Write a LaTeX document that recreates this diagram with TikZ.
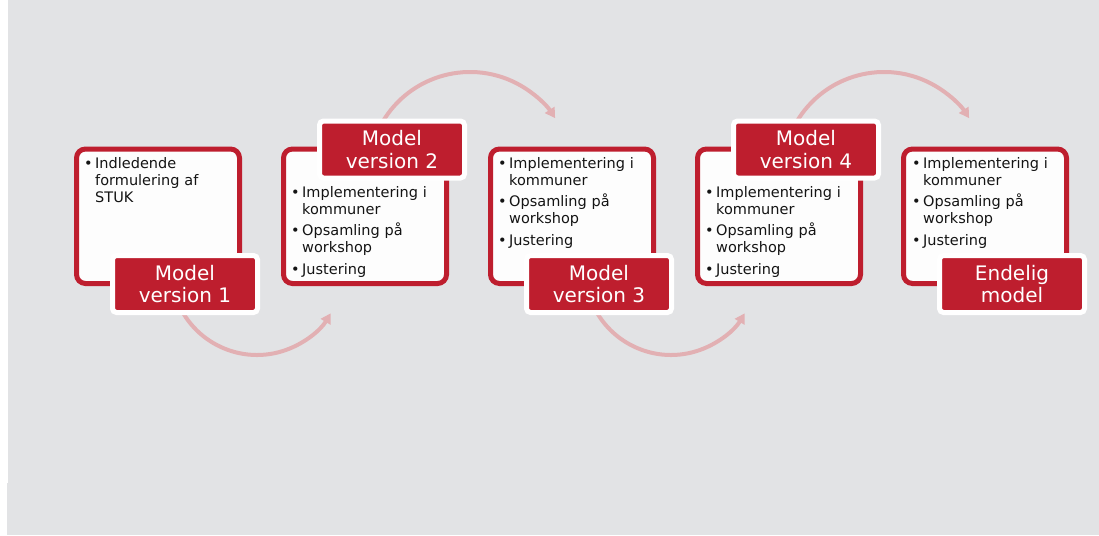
\documentclass[tikz,border=0pt]{standalone}
\usepackage{fontspec}
\setmainfont{DejaVu Sans}
\usetikzlibrary{arrows.meta}
\definecolor{bg}{RGB}{226,227,229}
\definecolor{brand}{RGB}{190,30,46}
\definecolor{arrowc}{RGB}{226,176,179}
\definecolor{boxfill}{RGB}{253,253,253}
\definecolor{ink}{RGB}{20,20,20}
\newcommand\itmf{\hangindent=11pt\hangafter=1\noindent\makebox[11pt][l]{\textbullet}}
\newcommand\itm{\par\itmf}
\newcommand\itemtext{\raggedright\setlength{\parskip}{4.5pt}\itmf Implementering i\newline kommuner\itm Opsamling på\newline workshop\itm Justering\par}
\tikzset{
  card/.style={draw=brand, line width=5pt, fill=boxfill, rounded corners=9pt,
    minimum width=163pt, minimum height=134.5pt, inner sep=0pt},
  tag/.style={draw=white, fill=brand, line width=5pt, rounded corners=4pt,
    minimum width=145pt, minimum height=57pt, inner sep=0pt, text=white,
    align=center, font=\fontsize{20}{22.5}\selectfont},
  bullets/.style={anchor=base west, text width=150pt, inner sep=0pt, text=ink,
    font=\fontsize{14.5}{17}\selectfont},
  flow/.style={draw=arrowc, line width=4pt, -{Triangle[length=10pt,width=11pt]}}
}
\begin{document}
\begin{tikzpicture}[x=1pt,y=1pt]
\useasboundingbox (0,0) rectangle (1099,-535);
\fill[white] (0,0) rectangle (1099,-535);
\fill[bg] (8,0) rectangle (1099,-483);
\fill[bg] (7,-483) rectangle (1099,-535);

% arcs
\coordinate (a1) at (176.2,-298.4);
\coordinate (a2) at (382.1,-122.75);
\coordinate (a3) at (590.2,-298.4);
\coordinate (a4) at (796.1,-122.75);
\draw[flow] (a1) arc[start angle=200, end angle=329, radius=86pt];
\draw[flow] (a2) arc[start angle=150, end angle=33, radius=101.5pt];
\draw[flow] (a3) arc[start angle=200, end angle=329, radius=86pt];
\draw[flow] (a4) arc[start angle=150, end angle=33, radius=101.5pt];

% cards
\node[card] (c1) at (158,-216.25) {};
\node[card] (c2) at (365,-216.25) {};
\node[card] (c3) at (572,-216.25) {};
\node[card] (c4) at (779,-216.25) {};
\node[card] (c5) at (985,-216.25) {};

% texts
\node[bullets] (t1) at (84,-168) {\raggedright\itmf Indledende\newline formulering af\newline STUK\par};
\node[bullets] (t2) at (291,-197) {\itemtext};
\node[bullets] (t3) at (498,-168) {\itemtext};
\node[bullets] (t4) at (705,-197) {\itemtext};
\node[bullets] (t5) at (912,-168) {\itemtext};

% labels
\node[tag] (l1) at (185,-284) {Model\\version 1};
\node[tag] (l2) at (392,-149.5) {Model\\version 2};
\node[tag] (l3) at (599,-284) {Model\\version 3};
\node[tag] (l4) at (806,-149.5) {Model\\version 4};
\node[tag] (l5) at (1012,-284) {Endelig\\model};
\end{tikzpicture}
\end{document}
